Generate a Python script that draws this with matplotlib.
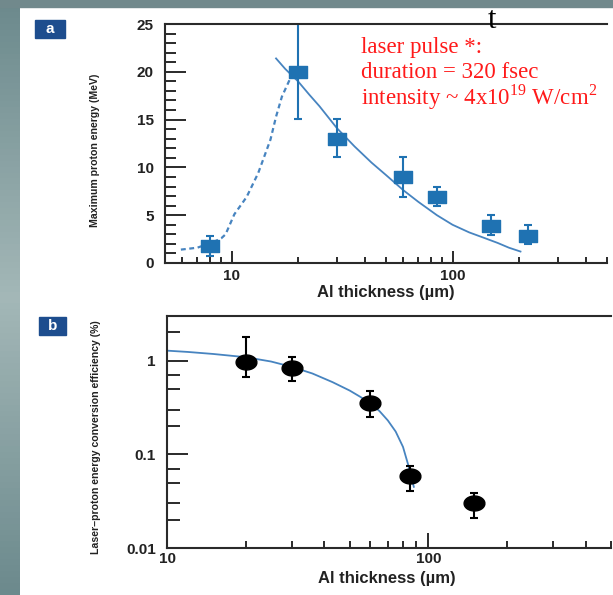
import numpy as np
import matplotlib
matplotlib.use("Agg")
from matplotlib import pyplot as plt
from matplotlib.path import Path
from matplotlib.patches import Rectangle
from matplotlib.ticker import MultipleLocator, LogLocator, NullFormatter

plt.rcParams["mathtext.fontset"] = "custom"
plt.rcParams["mathtext.rm"] = "Liberation Serif"

W, H = 613, 595

# Panel a: maximum proton energy vs Al thickness
thick_a = [8, 20, 30, 60, 85, 150, 220]
energy_a = [1.8, 20.0, 13.0, 9.0, 6.9, 3.9, 2.85]
energy_lo = [0.75, 15.1, 11.1, 6.9, 6.0, 2.9, 2.0]
energy_hi = [2.85, 26.0, 15.1, 11.1, 7.9, 5.0, 4.0]

# dashed guide (rising side) and solid fit (falling side)
rise_x = [5.9, 7.0, 8.3, 9.0, 9.4, 10.3, 11.7, 13.2, 15.0, 15.9, 16.9, 18.6, 20.0]
rise_y = [1.4, 1.6, 2.2, 2.6, 3.0, 5.1, 6.9, 9.4, 12.9, 15.3, 17.4, 19.5, 20.4]
fall_x = [15.9, 17.5, 20, 22.5, 25, 30, 36, 43, 50, 60, 70, 85, 100, 119, 140, 160,
          180, 203]
fall_y = [21.4, 20.3, 19.0, 17.6, 16.4, 14.1, 12.2, 10.5, 9.2, 7.6, 6.4, 5.0, 4.0,
          3.2, 2.6, 2.1, 1.6, 1.2]

# Panel b: conversion efficiency vs Al thickness
thick_b = [20, 30, 60, 85, 150]
eff_b = [0.98, 0.84, 0.35, 0.059, 0.030]
eff_lo = [0.67, 0.60, 0.25, 0.041, 0.021]
eff_hi = [1.77, 1.10, 0.48, 0.076, 0.039]

fit_b_x = [10, 12, 15, 20, 25, 30, 36, 43, 50, 55, 60, 65, 70, 75, 80, 84, 88]
fit_b_y = [1.28, 1.24, 1.18, 1.09, 0.98, 0.86, 0.73, 0.59, 0.48, 0.41, 0.35, 0.29,
           0.23, 0.175, 0.12, 0.075, 0.045]

SQ_BLUE = "#1f72b2"
LINE_BLUE = "#4784c0"
AX_COL = "#2a2a2a"
TICK_FONT = dict(family=["Liberation Sans", "DejaVu Sans"], weight="bold", size=11)


def px_rect(x0, y0, x1, y1):
    """Figure-fraction rect from pixel box (top-left origin)."""
    return [x0 / W, 1 - y1 / H, (x1 - x0) / W, (y1 - y0) / H]


fig = plt.figure(figsize=(W / 100, H / 100), dpi=100)
fig.patch.set_facecolor("white")

# slide frame: grey-teal strip on the left and along the top
strip = fig.add_axes(px_rect(0, 0, 20, H))
grad = np.concatenate([np.linspace(0, 1, 50), np.linspace(1, 0, 50)])[:, None]
strip.imshow(grad, aspect="auto", cmap=matplotlib.colors.LinearSegmentedColormap.from_list(
    "frame", ["#6c8a8d", "#a3b7b7"]), extent=[0, 1, 0, 1])
strip.axis("off")
fig.patches.append(Rectangle((0, 1 - 7 / H), 1, 7 / H, transform=fig.transFigure,
                             color="#71898c", zorder=5))

rect_marker = Path([(-1, -0.62), (1, -0.62), (1, 0.62), (-1, 0.62), (-1, -0.62)],
                   [Path.MOVETO, Path.LINETO, Path.LINETO, Path.LINETO, Path.CLOSEPOLY])
th = np.linspace(0, 2 * np.pi, 40)
ellipse_marker = Path(np.column_stack([np.cos(th), 0.72 * np.sin(th)]))


def style_axes(ax):
    ax.spines["right"].set_visible(False)
    for s in ("left", "bottom", "top"):
        ax.spines[s].set_color(AX_COL)
        ax.spines[s].set_linewidth(1.5)
    ax.tick_params(which="both", direction="in", color=AX_COL, width=1.4,
                   top=False, right=False)
    for lab in ax.get_xticklabels() + ax.get_yticklabels():
        lab.set(**TICK_FONT)
        lab.set_color("#222222")


# ---- panel a ----
ax1 = fig.add_axes(px_rect(165, 24, 607, 263))
ax1.set_xscale("log")
ax1.set_xlim(5, 500)
ax1.set_ylim(0, 25)
ax1.plot(rise_x, rise_y, ls=(0, (2.2, 1.6)), color=LINE_BLUE, lw=1.6)
ax1.plot(fall_x, fall_y, color=LINE_BLUE, lw=1.3)
ya = np.array(energy_a)
ax1.errorbar(thick_a, energy_a,
             yerr=[ya - np.array(energy_lo), np.array(energy_hi) - ya],
             fmt="none", ecolor=SQ_BLUE, elinewidth=1.5, capsize=3, capthick=1.5)
ax1.plot(thick_a, energy_a, ls="none", marker=rect_marker, ms=13, color=SQ_BLUE)
ax1.yaxis.set_major_locator(MultipleLocator(5))
ax1.yaxis.set_minor_locator(MultipleLocator(1))
ax1.set_xticks([10, 100])
ax1.set_xticklabels(["10", "100"])
ax1.xaxis.set_minor_locator(LogLocator(subs=np.arange(2, 10)))
ax1.xaxis.set_minor_formatter(NullFormatter())
ax1.tick_params(axis="y", which="major", length=15, pad=8)
ax1.tick_params(axis="y", which="minor", length=8)
ax1.tick_params(axis="x", which="major", length=9, pad=4)
ax1.tick_params(axis="x", which="minor", length=4)
style_axes(ax1)

# ---- panel b ----
ax2 = fig.add_axes(px_rect(167, 316, 611, 548))
ax2.set_xscale("log")
ax2.set_yscale("log")
ax2.set_xlim(10, 500)
ax2.set_ylim(0.01, 3)
ax2.plot(fit_b_x, fit_b_y, color=LINE_BLUE, lw=1.3)
yb = np.array(eff_b)
ax2.errorbar(thick_b, eff_b, yerr=[yb - np.array(eff_lo), np.array(eff_hi) - yb],
             fmt="none", ecolor="black", elinewidth=1.5, capsize=3, capthick=1.5)
ax2.plot(thick_b, eff_b, ls="none", marker=ellipse_marker, ms=15, color="black")
ax2.set_xticks([10, 100])
ax2.set_xticklabels(["10", "100"])
ax2.xaxis.set_minor_locator(LogLocator(subs=np.arange(2, 10)))
ax2.xaxis.set_minor_formatter(NullFormatter())
ax2.set_yticks([0.01, 0.1, 1])
ax2.set_yticklabels(["0.01", "0.1", "1"])
ax2.yaxis.set_minor_locator(LogLocator(subs=[2, 3, 5, 7]))
ax2.yaxis.set_minor_formatter(NullFormatter())
ax2.tick_params(axis="y", which="major", length=15, pad=8)
ax2.tick_params(axis="y", which="minor", length=9)
ax2.tick_params(axis="x", which="major", length=11, pad=3)
ax2.tick_params(axis="x", which="minor", length=5)
style_axes(ax2)

# axis titles
x_font = dict(family=["Liberation Sans", "DejaVu Sans"], weight="bold", color="#222222")
y_font = dict(family=["Liberation Sans", "DejaVu Sans"], weight="bold",
              color="#222222")
fig.text(386 / W, 1 - 292 / H, "Al thickness (\u00b5m)", ha="center", va="center",
         size=12, **x_font)
fig.text(387 / W, 1 - 579 / H, "Al thickness (\u00b5m)", ha="center", va="center",
         size=12, **x_font)
fig.text(95 / W, 1 - 150 / H, "Maximum proton energy (MeV)", rotation=90,
         ha="center", va="center", size=7.6, **y_font)
fig.text(96 / W, 1 - 437 / H, "Laser\u2013proton energy conversion efficiency (%)",
         rotation=90, ha="center", va="center", size=7.6, **y_font)

# panel badges
for (x0, y0, x1, y1), letter in [((35, 20, 65, 38), "a"), ((39, 317, 66, 335), "b")]:
    fig.patches.append(Rectangle((x0 / W, 1 - y1 / H), (x1 - x0) / W, (y1 - y0) / H,
                                 transform=fig.transFigure, color="#1d4d8e"))
    fig.text((x0 + x1) / 2 / W, 1 - (y0 + y1) / 2 / H, letter, color="white",
             ha="center", va="center", size=11, weight="bold",
             family=["Liberation Sans", "DejaVu Sans"])

# laser pulse annotation
serif = ["Liberation Serif", "DejaVu Serif"]
notes = ["laser pulse *:", "duration = 320 fsec",
         "intensity ~ 4x10$^{19}$ W/cm$^{2}$"]
for i, line in enumerate(notes):
    fig.text(361 / W, 1 - (53 + 25.5 * i) / H, line, color="#ff1a1a", size=16.5,
             family=serif, ha="left", va="baseline")
fig.text(492 / W, 1 - 28 / H, "t", color="black", size=22, family=serif,
         ha="center", va="baseline")

fig.savefig("out.png", dpi=100)
